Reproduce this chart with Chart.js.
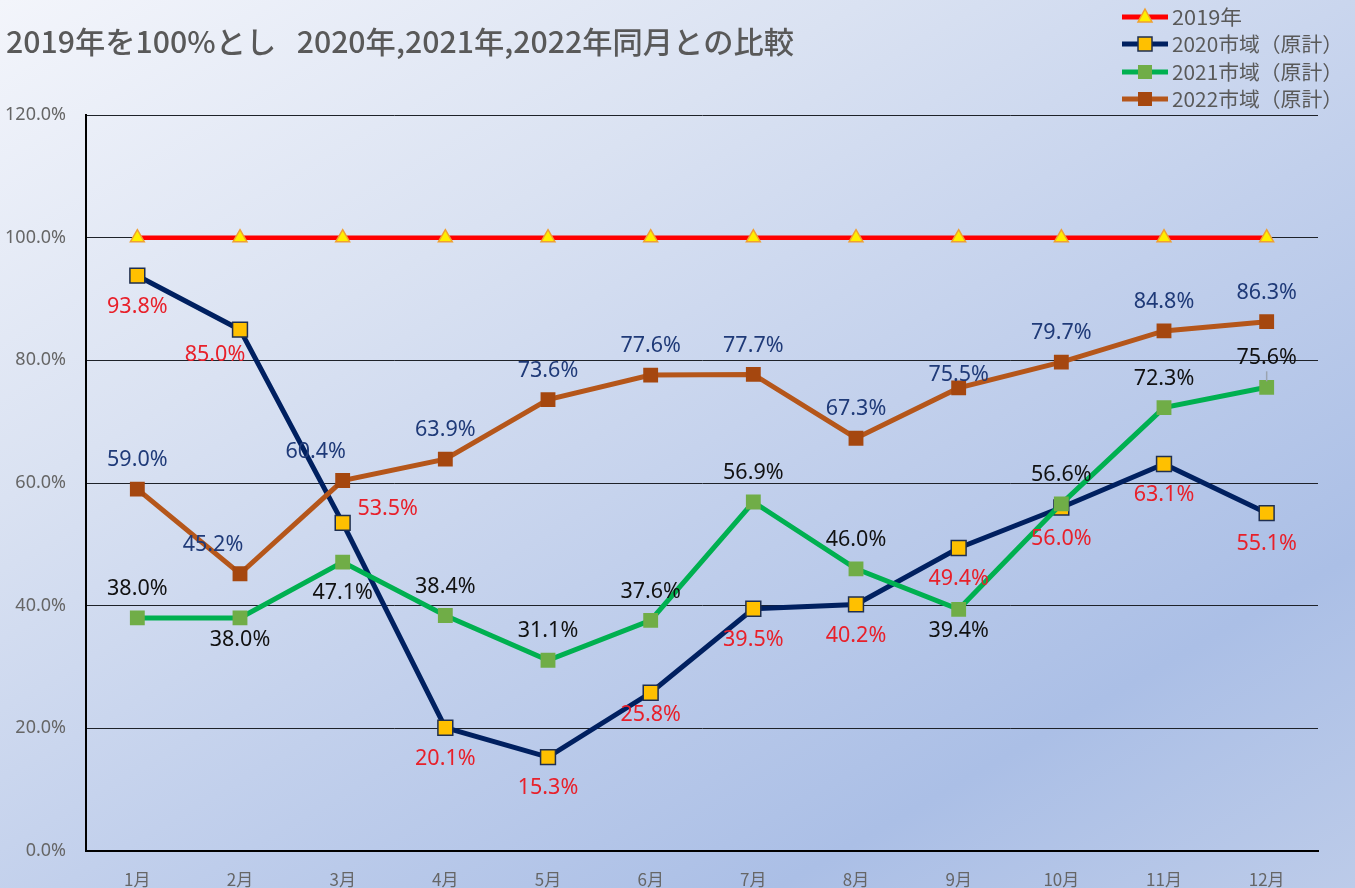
<!DOCTYPE html>
<html>
<head>
<meta charset="utf-8">
<script src="https://cdn.jsdelivr.net/npm/chart.js@4"></script>
<style>
  html, body { margin: 0; padding: 0; }
  body {
    width: 1355px; height: 888px; overflow: hidden;
    background: linear-gradient(150deg, #f3f5fb 0%, #dae2f2 30%, #c2d0ec 55%, #abbfe6 80%, #bccbe9 100%);
  }
  #wrap { position: relative; width: 1355px; height: 888px; }
</style>
</head>
<body>
<div id="wrap"><canvas id="myChart" width="1355" height="888"></canvas></div>
<script>
const months = ["1月", "2月", "3月", "4月", "5月", "6月", "7月", "8月", "9月", "10月", "11月", "12月"];
const base2019 = [100, 100, 100, 100, 100, 100, 100, 100, 100, 100, 100, 100];
const market2020 = [93.8, 85.0, 53.5, 20.1, 15.3, 25.8, 39.5, 40.2, 49.4, 56.0, 63.1, 55.1];
const market2021 = [38.0, 38.0, 47.1, 38.4, 31.1, 37.6, 56.9, 46.0, 39.4, 56.6, 72.3, 75.6];
const market2022 = [59.0, 45.2, 60.4, 63.9, 73.6, 77.6, 77.7, 67.3, 75.5, 79.7, 84.8, 86.3];
const yTicks = [0, 20, 40, 60, 80, 100, 120];
const seriesNames = ["2019年", "2020市域（原計）", "2021市域（原計）", "2022市域（原計）"];

// where each data label sits relative to its point
const place2020 = ["b", "bl", "r", "b", "b", "bs", "b", "b", "b", "b", "b", "b"];
const place2021 = ["a", "bs", "b", "a", "a", "a", "a", "a", "bs", "a", "a", "a"];
const place2022 = ["a", "al", "al", "a", "a", "a", "a", "a", "as", "a", "a", "a"];
const offsets = {
  a: [0, -29], as: [0, -13], al: [-27, -29],
  b: [0, 31], bs: [0, 22], bl: [-25, 25], r: [45, -14]
};

const labelFont = '21.5px "Noto Sans", "Open Sans", sans-serif';
const greyText = "#595959";

const dataLabels = {
  id: "dataLabels",
  afterDatasetsDraw(chart) {
    const ctx = chart.ctx;
    const sets = [
      { idx: 1, place: place2020, color: "#e8202a" },
      { idx: 2, place: place2021, color: "#111111" },
      { idx: 3, place: place2022, color: "#1f3a78" },
    ];
    ctx.save();
    ctx.font = labelFont;
    ctx.textAlign = "center";
    ctx.textBaseline = "middle";
    sets.forEach((s) => {
      const meta = chart.getDatasetMeta(s.idx);
      const values = chart.data.datasets[s.idx].data;
      meta.data.forEach((pt, i) => {
        const off = offsets[s.place[i]];
        const x = pt.x + off[0];
        const y = pt.y + off[1];
        if (s.idx === 2 && i === 11) {
          // little leader line to the last green point
          ctx.strokeStyle = "#9aa3b0";
          ctx.lineWidth = 1.5;
          ctx.beginPath();
          ctx.moveTo(pt.x, y + 13);
          ctx.lineTo(pt.x, pt.y - 6);
          ctx.stroke();
        }
        ctx.fillStyle = s.color;
        ctx.fillText(values[i].toFixed(1) + "%", x, y);
      });
    });
    ctx.restore();
  },
};

// draw text squeezed or stretched to a given width
const fitText = (ctx, text, x, y, width) => {
  const w = ctx.measureText(text).width;
  ctx.save();
  ctx.translate(x, y);
  ctx.scale(width / w, 1);
  ctx.fillText(text, 0, 0);
  ctx.restore();
};

const titleAndLegend = {
  id: "titleAndLegend",
  afterDraw(chart) {
    const ctx = chart.ctx;
    ctx.save();
    const title = "2019年を100%とし   2020年,2021年,2022年同月との比較";
    ctx.font = '500 30px "Noto Sans CJK JP", sans-serif';
    ctx.fillStyle = greyText;
    ctx.textBaseline = "middle";
    fitText(ctx, title, 6, 42, 788);
    ctx.restore();

    // legend
    ctx.save();
    const rows = [17, 44, 72, 99];
    const widths = [70, 171, 171, 171];
    chart.data.datasets.forEach((ds, i) => {
      const y = rows[i];
      ctx.strokeStyle = ds.borderColor;
      ctx.lineWidth = 5;
      ctx.beginPath();
      ctx.moveTo(1122, y);
      ctx.lineTo(1168, y);
      ctx.stroke();
      ctx.fillStyle = ds.pointBackgroundColor;
      ctx.strokeStyle = ds.pointBorderColor;
      ctx.lineWidth = 1.5;
      if (i === 0) {
        ctx.beginPath();
        ctx.moveTo(1145, y - 8);
        ctx.lineTo(1152, y + 5);
        ctx.lineTo(1138, y + 5);
        ctx.closePath();
        ctx.fill();
        ctx.stroke();
      } else {
        ctx.fillRect(1138, y - 7, 14, 14);
        if (i === 1) ctx.strokeRect(1138, y - 7, 14, 14);
      }
      ctx.fillStyle = greyText;
      ctx.font = '20px "Noto Sans CJK JP", sans-serif';
      ctx.textBaseline = "middle";
      fitText(ctx, ds.label, 1172, y, widths[i]);
    });
    ctx.restore();
  },
};

const config = {
  type: "line",
  data: {
    labels: months,
    datasets: [
      {
        label: seriesNames[0],
        data: base2019,
        borderColor: "#ff0000",
        borderWidth: 4.5,
        pointStyle: "triangle",
        pointRadius: 8,
        pointBackgroundColor: "#ffee00",
        pointBorderColor: "#f0a030",
        pointBorderWidth: 1.5,
        order: 4,
      },
      {
        label: seriesNames[1],
        data: market2020,
        borderColor: "#002060",
        borderWidth: 5,
        pointStyle: "rect",
        pointRadius: 10.5,
        pointBackgroundColor: "#ffc000",
        pointBorderColor: "#1f2f50",
        pointBorderWidth: 1.5,
        order: 3,
      },
      {
        label: seriesNames[2],
        data: market2021,
        borderColor: "#00b050",
        borderWidth: 5,
        pointStyle: "rect",
        pointRadius: 10.5,
        pointBackgroundColor: "#70ad47",
        pointBorderColor: "#70ad47",
        pointBorderWidth: 0,
        order: 2,
      },
      {
        label: seriesNames[3],
        data: market2022,
        borderColor: "#b5561a",
        borderWidth: 5,
        pointStyle: "rect",
        pointRadius: 10.5,
        pointBackgroundColor: "#a5470f",
        pointBorderColor: "#a5470f",
        pointBorderWidth: 0,
        order: 1,
      },
    ],
  },
  options: {
    responsive: false,
    animation: false,
    layout: { padding: { top: 115, right: 37, left: 0, bottom: 0 } },
    plugins: {
      legend: { display: false },
      title: { display: false },
      tooltip: { enabled: false },
    },
    scales: {
      x: {
        offset: true,
        grid: { display: false },
        border: { color: "#000", width: 2 },
        ticks: {
          color: "#666",
          font: { size: 17, family: '"Noto Sans CJK JP", sans-serif' },
          padding: 10,
        },
        afterFit: (scale) => { scale.height = 37; },
      },
      y: {
        min: 0,
        max: 120,
        afterBuildTicks: (scale) => { scale.ticks = yTicks.map((v) => ({ value: v })); },
        grid: { color: "#1e2229", lineWidth: 1, drawTicks: false },
        border: { color: "#000", width: 2 },
        ticks: {
          color: "#666",
          font: { size: 18, family: '"Noto Sans", "Open Sans", sans-serif' },
          padding: 20,
          callback: (v) => v.toFixed(1) + "%",
        },
        afterFit: (scale) => { scale.width = 86; },
      },
    },
  },
  plugins: [dataLabels, titleAndLegend],
};

new Chart(document.getElementById("myChart"), config);
</script>
</body>
</html>
